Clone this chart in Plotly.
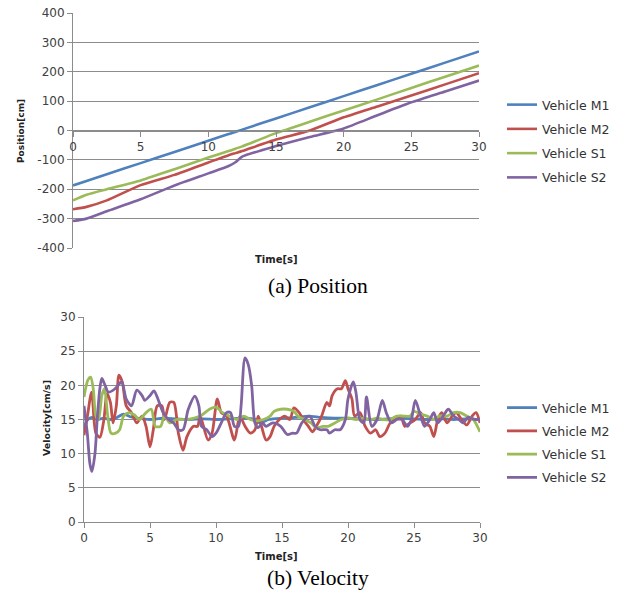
import plotly.graph_objects as go

W, H = 619, 591
names = ["Vehicle M1", "Vehicle M2", "Vehicle S1", "Vehicle S2"]
colors = ["#4F81BD", "#C0504D", "#9BBB59", "#8064A2"]

# ---- Position data ----
pos_t = [0, 1, 2.5, 5, 7.5, 10, 11.5, 12, 12.5, 15, 17.5, 20, 22.5, 25, 27.5, 30]
pos_m1 = [-187, -172, -149, -111, -73, -35, -12, -5, 3, 41, 79, 117, 155, 193, 231, 269]
pos_m2 = [-268, -260, -238, -186, -151, -109, -84, -77, -70, -31, 0, 45, 82, 119, 157, 195]
pos_s1 = [-238, -219, -200, -170, -132, -92, -70, -62, -54, -9, 30, 68, 106, 145, 183, 221]
pos_s2 = [-308, -300, -275, -234, -187, -146, -121, -108, -89, -53, -22, 7, 52, 96, 133, 170]

# ---- Velocity data ----
vel_m1_t = [0, 0.3, 0.6, 1, 1.5, 2, 2.5, 3, 3.5, 4, 5, 6, 7, 8, 9, 10, 11, 12, 13, 13.3, 14, 15,
            16, 17, 18, 19, 20, 21, 22, 23, 24, 25, 26, 27, 28, 29, 30]
vel_m1 = [13.9, 15, 15.3, 15, 15.2, 15, 15.3, 15.8, 15.4, 15.2, 15, 15.2, 15.1, 15, 15.1, 15, 15.1,
          15.2, 15, 14.5, 15, 15.2, 15.3, 15.5, 15.3, 15.2, 15.2, 15.1, 15, 15.1, 15.2, 15.1, 15,
          15.1, 15, 15.1, 15]

vel_m2_t = [0, 0.25, 0.58, 0.9, 1.2, 1.5, 1.75, 2.0, 2.2, 2.45, 2.65, 2.9, 3.2, 3.6, 4.0, 4.4, 4.7,
            5.0, 5.25, 5.55, 5.9, 6.1, 6.5, 6.8, 7.15, 7.5, 7.8, 8.3, 8.6, 8.8, 9.4, 9.7, 10.1,
            10.4, 10.8, 11.4, 11.8, 12.2, 12.6, 12.95, 13.2, 13.45, 13.8, 14.1, 14.4, 14.8, 15.2,
            15.6, 15.9, 16.3, 16.6, 17.0, 17.3, 17.6, 18.0, 18.4, 18.6, 18.8, 19.2, 19.5, 19.8,
            20.0, 20.3, 20.5, 20.9, 21.3, 21.7, 22.1, 22.4, 22.8, 23.2, 23.6, 24.0, 24.3, 24.7,
            25.1, 25.5, 25.8, 26.2, 26.5, 26.8, 27.1, 27.5, 27.9, 28.2, 28.6, 29.0, 29.4, 29.7, 30]
vel_m2 = [12.7, 15.4, 19.0, 13, 12.4, 14.9, 18.8, 17.5, 14.5, 17, 21.5, 20.5, 17, 16, 14.5, 15.5,
          14, 11, 13.5, 17, 17, 15, 17.5, 17.5, 13, 10.5, 12.5, 14, 14, 15.5, 12, 13, 18, 16, 15.5,
          12, 15.5, 14, 13, 13.5, 15.5, 14, 12, 12.5, 14, 15, 15.5, 15, 16.7, 16, 15, 14, 13.2,
          14, 15.5, 17.5, 17, 18.5, 19.5, 19.5, 20.7, 19.5, 18, 15.5, 16, 14, 13, 13.5, 12.5, 13,
          14.5, 15, 15.5, 14, 14.5, 15, 16, 14.5, 14, 12.5, 15, 16, 14.5, 15.5, 16, 15, 14.2,
          15.5, 16, 14.5]

vel_s1_t = [0, 0.3, 0.5, 0.7, 0.9, 1.1, 1.35, 1.55, 1.8, 2.05, 2.4, 2.7, 3.0, 3.4, 3.8, 4.2, 4.7,
            5.1, 5.4, 5.8, 6.1, 6.5, 7.0, 7.8, 8.8, 9.5, 10, 10.5, 11, 11.6, 12.1, 12.6, 13.1,
            13.6, 14.1, 14.4, 14.9, 15.4, 15.9, 16.2, 16.7, 17.2, 17.6, 18.1, 18.5, 19.0, 19.5,
            20.1, 20.6, 21.2, 21.7, 22.2, 22.7, 23.2, 23.7, 24.2, 24.7, 25.0, 25.5, 26.0, 26.5,
            26.9, 27.5, 28.0, 28.5, 29.0, 29.5, 29.8, 30]
vel_s1 = [18.3, 20.8, 21.2, 19.5, 15.5, 15, 18.5, 19.5, 15.5, 13, 13, 13.5, 15.5, 16, 15.7, 15,
          16, 16.5, 14, 14, 15.5, 14.5, 15, 15, 15.5, 16.5, 16.8, 16, 15.5, 15, 15.5, 15, 14.8,
          15, 15.5, 16.2, 16.5, 16.5, 16.2, 15.5, 15, 14.5, 13.8, 14, 14, 14.5, 15, 15.2, 15,
          15.2, 15, 15.2, 15, 15, 15.5, 15.5, 15.5, 16.2, 15.8, 15.5, 15, 15.5, 15.5, 16, 16,
          15.5, 15, 14, 13.2]

vel_s2_t = [0, 0.25, 0.45, 0.6, 0.83, 1.0, 1.2, 1.35, 1.6, 1.85, 2.35, 2.85, 3.2, 3.6, 4.0, 4.4,
            4.6, 5.0, 5.3, 5.6, 6.0, 6.4, 6.8, 7.15, 7.5, 7.9, 8.4, 8.7, 8.9, 9.3, 9.7, 10.0,
            10.4, 10.8, 11.1, 11.4, 11.7, 11.9, 12.2, 12.45, 12.7, 12.95, 13.2, 13.5, 13.8, 14.3,
            14.9, 15.4, 15.8, 16.1, 16.5, 17.1, 17.5, 17.9, 18.4, 18.6, 19.0, 19.4, 19.8, 20.0,
            20.4, 20.6, 20.9, 21.2, 21.4, 21.8, 22.2, 22.6, 22.9, 23.3, 23.7, 24.1, 24.5, 24.8,
            25.1, 25.5, 25.8, 26.2, 26.5, 26.8, 27.2, 27.6, 28.0, 28.4, 28.7, 29.1, 29.6, 30]
vel_s2 = [17, 13, 8.5, 7.4, 10, 15, 19.5, 21, 20, 19, 19.5, 20.5, 18, 17, 19.3, 18.5, 17.8, 18.5,
          19.2, 18, 16, 15, 14.5, 13.5, 13.5, 16.5, 18.4, 17, 14, 13.5, 12.5, 13, 14.5, 16, 16,
          14, 14, 17, 24, 23, 20, 14.5, 13.8, 14.5, 14, 14.5, 14, 12.8, 13, 13, 14.5, 15.5, 14,
          13.5, 13.5, 13, 13.5, 13.5, 15, 18, 20.5, 19, 15, 14.5, 18.3, 14, 15, 17.8, 16, 14.5,
          15, 15, 14, 15, 17.8, 15.5, 14, 15, 16, 14.5, 15.5, 16.5, 15.5, 15, 14.5, 15.3, 15, 15]

x_ticks = [0, 5, 10, 15, 20, 25, 30]
pos_ticks = [-400, -300, -200, -100, 0, 100, 200, 300, 400]
vel_ticks = [0, 5, 10, 15, 20, 25, 30]

GRID = "#8c8c8c"
TXT = "#404040"
FONT = "DejaVu Sans"
OFF = 8  # page body margin offset

fig = go.Figure()

pos_series = [pos_m1, pos_m2, pos_s1, pos_s2]
for n, c, ys in zip(names, colors, pos_series):
    fig.add_trace(go.Scatter(x=pos_t, y=ys, mode="lines", name=n, xaxis="x", yaxis="y",
                             line=dict(color=c, width=2.6, shape="spline", smoothing=0.6),
                             legend="legend", legendgroup="p" + n))

vel_series = [(vel_m1_t, vel_m1), (vel_m2_t, vel_m2), (vel_s1_t, vel_s1), (vel_s2_t, vel_s2)]
for n, c, (ts, vs) in zip(names, colors, vel_series):
    fig.add_trace(go.Scatter(x=ts, y=vs, mode="lines", name=n, xaxis="x2", yaxis="y2",
                             line=dict(color=c, width=2.8, shape="spline", smoothing=0.8),
                             legend="legend2", legendgroup="v" + n))

def px_x(p):
    return (p - OFF) / W

def px_y(p):
    return 1 - (p - OFF) / H

tick_font = dict(family=FONT, size=12, color=TXT)
common = dict(automargin=False, ticklabeloverflow="allow", zeroline=False, showline=True,
              linecolor=GRID, linewidth=1, ticks="outside", ticklen=5, tickcolor=GRID,
              tickfont=tick_font)

fig.update_layout(
    width=W, height=H,
    margin=dict(l=0, r=0, t=0, b=0, autoexpand=False),
    paper_bgcolor="white", plot_bgcolor="white",
    xaxis=dict(domain=[px_x(73), px_x(479)], range=[0, 30], anchor="free",
               position=px_y(130.5), tickvals=x_ticks, ticktext=[str(v) for v in x_ticks],
               showgrid=False, **common),
    yaxis=dict(domain=[px_y(248), px_y(13)], range=[-400, 400], tickvals=pos_ticks,
               ticktext=[str(v) for v in pos_ticks], showgrid=True, gridcolor=GRID,
               gridwidth=1, anchor="x", **common),
    xaxis2=dict(domain=[px_x(84), px_x(480)], range=[0, 30], anchor="y2", tickvals=x_ticks,
                ticktext=[str(v) for v in x_ticks], showgrid=False, **common),
    yaxis2=dict(domain=[px_y(522), px_y(317)], range=[0, 30], tickvals=vel_ticks,
                ticktext=[str(v) for v in vel_ticks], showgrid=True, gridcolor=GRID,
                anchor="x2", **common),
    legend=dict(x=px_x(502), y=px_y(90), xanchor="left", yanchor="top",
                font=dict(family=FONT, size=12.5, color="#333333"), tracegroupgap=5,
                traceorder="grouped", bgcolor="rgba(0,0,0,0)"),
    legend2=dict(x=px_x(502), y=px_y(393), xanchor="left", yanchor="top",
                 font=dict(family=FONT, size=12.5, color="#333333"), tracegroupgap=4,
                 traceorder="grouped", bgcolor="rgba(0,0,0,0)"),
    showlegend=True,
)

ann = [
    ("<b>Time[s]</b>", 276, 259, 0, dict(family=FONT, size=10, color="#222222")),
    ("<b>Position[cm]</b>", 21, 131, -90, dict(family=FONT, size=9, color="#222222")),
    ("(a) Position", 318, 286, 0, dict(family="Liberation Serif", size=21.5, color="black")),
    ("<b>Time[s]</b>", 276, 556, 0, dict(family=FONT, size=10, color="#222222")),
    ("<b>Velocity[cm/s]</b>", 46, 418, -90, dict(family=FONT, size=9.5, color="#222222")),
    ("(b) Velocity", 318, 578, 0, dict(family="Liberation Serif", size=21.5, color="black")),
]
for text, ax, ay, ang, f in ann:
    fig.add_annotation(text=text, x=px_x(ax), y=px_y(ay), xref="paper", yref="paper",
                       xanchor="center", yanchor="middle", showarrow=False, textangle=ang,
                       font=f)

fig.write_html("out.html")
